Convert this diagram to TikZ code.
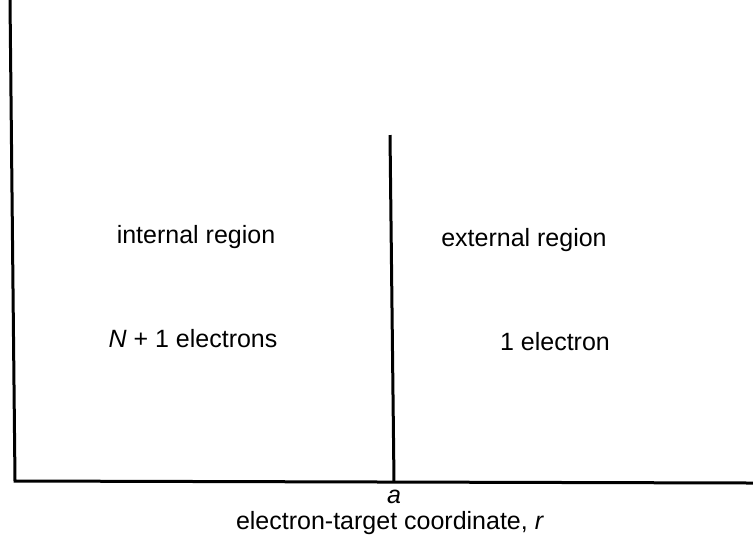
\documentclass[tikz,border=0pt]{standalone}
\usepackage{fontspec}
\setmainfont{Liberation Sans}
\begin{document}
\begin{tikzpicture}[x=0.5pt,y=-0.5pt,
  axisline/.style={line width=1.5pt},
  lbl/.style={font=\fontsize{12.5}{14}\selectfont, inner sep=0pt}]
\useasboundingbox (0,0) rectangle (753,543);
\coordinate (top) at (10,0);
\coordinate (o) at (15,481);
\coordinate (end) at (753,483);
\coordinate (ma) at (390,135);
\coordinate (mb) at (394,482);
\draw[axisline] (top) -- (o) -- (end);
\draw[axisline] (ma) -- (mb);
\node[lbl] (int) at (196,237) {internal region};
\node[lbl] (ext) at (524,240) {external region};
\node[lbl] (nel) at (193,339) {\textit{N} + 1 electrons};
\node[lbl] (one) at (555,342) {1 electron};
\node[lbl, below=4pt] (a) at (mb) {\textit{a}};
\node[lbl] (coord) at (390,523) {electron-target coordinate, \textit{r}};
\end{tikzpicture}
\end{document}
